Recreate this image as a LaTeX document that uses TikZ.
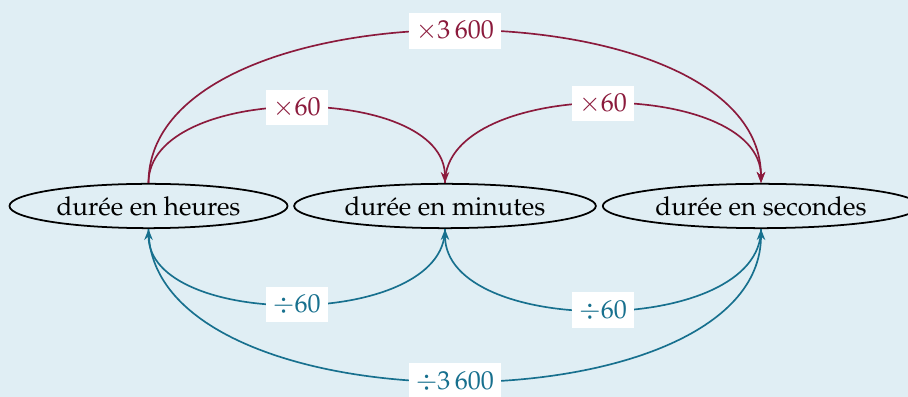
\documentclass[tikz,border=0pt]{standalone}
\usepackage[T1]{fontenc}
\usepackage{mathpazo}
\usetikzlibrary{arrows.meta,shapes.geometric}
\definecolor{crimson}{HTML}{8B1A3C}
\definecolor{petrol}{HTML}{17708E}
\definecolor{sky}{HTML}{E0EEF4}

\begin{document}
\begin{tikzpicture}[
  font=\fontsize{14.8}{18}\selectfont,
  unit/.style={ellipse,draw=black,line width=1pt,inner xsep=3.6pt,inner ysep=3.4pt},
  mult/.style={-{Stealth[length=2.2mm,width=1.7mm]},draw=crimson,line width=.95pt},
  divi/.style={-{Stealth[length=2.2mm,width=1.7mm]},draw=petrol,line width=.95pt},
  tag/.style={fill=white,inner xsep=4pt,inner ysep=4.5pt},
]
\fill[sky] (0,0) rectangle (18.16,7.94);
\useasboundingbox (0,0) rectangle (18.16,7.94);

\node[unit] (heures) at (2.97,3.82) {durée en heures};
\node[unit] (minutes) at (8.90,3.82) {durée en minutes};
\node[unit] (secondes) at (15.22,3.82) {durée en secondes};

% conversions vers le bas de l'echelle
\draw[mult] (heures.north) to[out=90,in=90,looseness=.87] node[tag,text=crimson] {$\times 60$} (minutes.north);
\draw[mult] (minutes.north) to[out=90,in=90,looseness=.86] node[tag,text=crimson] {$\times 60$} (secondes.north);
\draw[mult] (heures.north) to[out=90,in=90,looseness=.85] node[tag,text=crimson] {$\times 3\,600$} (secondes.north);

% conversions vers le haut
\draw[divi] (minutes.south) to[out=-90,in=-90,looseness=.87] node[tag,text=petrol] {$\div 60$} (heures.south);
\draw[divi] (secondes.south) to[out=-90,in=-90,looseness=.88] node[tag,text=petrol] {$\div 60$} (minutes.south);
\draw[divi] (heures.south) to[out=-90,in=-90,looseness=.85] node[tag,text=petrol] {$\div 3\,600$} (secondes.south);
\end{tikzpicture}
\end{document}
